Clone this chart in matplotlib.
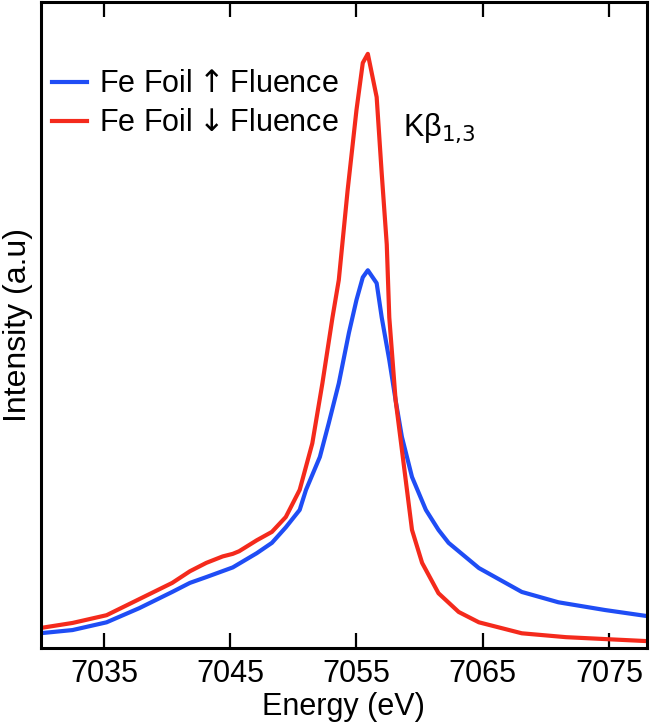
import matplotlib
matplotlib.use("Agg")
import matplotlib.pyplot as plt

plt.rcParams['font.family'] = ['Liberation Sans', 'DejaVu Sans']

# Energy (eV) and intensity (a.u.)
energy_red = [7029.9, 7032.5, 7035.2, 7037.8, 7040.4, 7041.8, 7043.1, 7044.4, 7045.2,
              7045.7, 7047.1, 7048.3, 7049.4, 7050.5, 7051.5, 7052.3, 7053.1, 7053.6,
              7054.3, 7055.0, 7055.5, 7055.9, 7056.6, 7057.0, 7057.4, 7057.6, 7058.1,
              7058.6, 7059.4, 7060.2, 7061.5, 7063.1, 7064.7, 7068.1, 7071.6, 7077.9]
int_red = [0.031, 0.039, 0.051, 0.076, 0.101, 0.119, 0.132, 0.142, 0.146,
           0.150, 0.167, 0.180, 0.203, 0.245, 0.317, 0.410, 0.512, 0.570,
           0.709, 0.833, 0.906, 0.920, 0.853, 0.735, 0.625, 0.512, 0.384,
           0.307, 0.183, 0.132, 0.085, 0.056, 0.040, 0.023, 0.017, 0.011]

energy_blue = [7029.9, 7032.5, 7035.2, 7037.8, 7040.4, 7041.8, 7043.1, 7045.2, 7047.1,
               7048.3, 7049.4, 7050.5, 7051.0, 7052.1, 7052.8, 7053.6, 7054.4, 7055.0,
               7055.5, 7055.9, 7056.6, 7057.0, 7057.6, 7058.1, 7058.6, 7059.4, 7060.5,
               7061.5, 7062.3, 7064.7, 7068.1, 7071.0, 7074.7, 7077.9]
int_blue = [0.023, 0.028, 0.040, 0.062, 0.087, 0.101, 0.110, 0.125, 0.147,
            0.163, 0.187, 0.214, 0.245, 0.296, 0.348, 0.410, 0.488, 0.539,
            0.574, 0.585, 0.565, 0.512, 0.446, 0.384, 0.327, 0.265, 0.214,
            0.183, 0.163, 0.124, 0.087, 0.071, 0.059, 0.050]

xticks = [7035, 7045, 7055, 7065, 7075]
labels = [r'Fe Foil$\uparrow$Fluence', r'Fe Foil$\downarrow$Fluence']

fig = plt.figure(figsize=(6.5, 7.25), dpi=100)
ax = fig.add_axes([0.063, 0.106, 0.932, 0.891])

ax.plot(energy_blue, int_blue, color='#1f4df5', lw=3.0, label=labels[0])
ax.plot(energy_red, int_red, color='#f42a1c', lw=3.0, label=labels[1])

ax.set_xlim(7030, 7078)
ax.set_ylim(0, 1)
ax.set_xticks(xticks)
ax.set_yticks([])
ax.tick_params(axis='x', direction='in', length=11, width=1.6, top=True,
               labelsize=22, pad=8)
for s in ax.spines.values():
    s.set_linewidth(2.2)

ax.set_xlabel('Energy (eV)', fontsize=22, labelpad=2)
ax.set_ylabel('Intensity (a.u)', fontsize=23, labelpad=6)

ax.text(7058.7, 0.805, 'K\u03b2$_{1{,}3}$', fontsize=22, va='center', ha='left')

ax.legend(loc='upper left', bbox_to_anchor=(-0.002, 0.915), frameon=False, fontsize=22,
          handlelength=1.15, handletextpad=0.4, labelspacing=0.3, borderaxespad=0.0)

fig.savefig('out.png', dpi=100)
